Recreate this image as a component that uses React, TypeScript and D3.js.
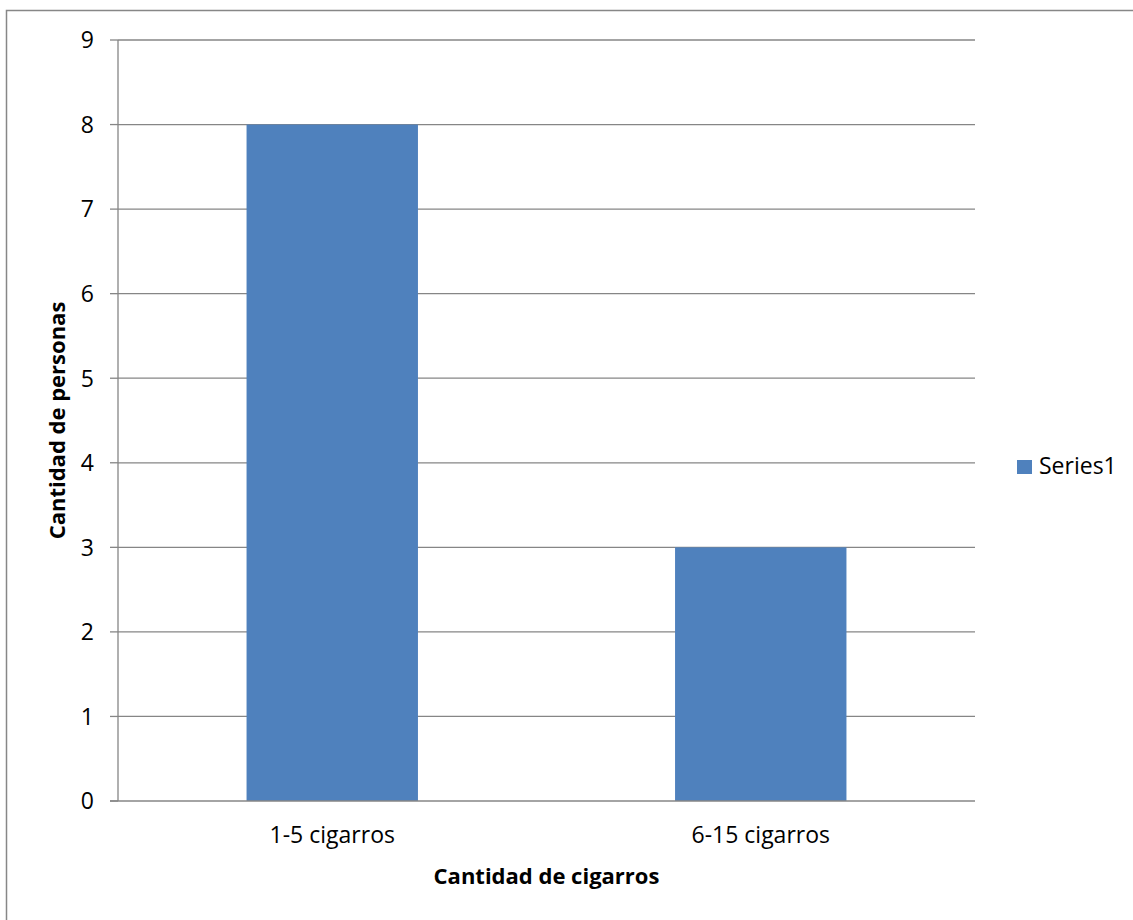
import React from "react";
import * as d3 from "d3";

const categories = ["1-5 cigarros", "6-15 cigarros"];
const values = [8, 3];
const yTicks = [0, 1, 2, 3, 4, 5, 6, 7, 8, 9];
const seriesName = "Series1";
const xTitle = "Cantidad de cigarros";
const yTitle = "Cantidad de personas";

const W = 1133;
const H = 920;
const plot = { left: 118, right: 975, top: 40, bottom: 801 };
const FONT = "'Open Sans', 'Noto Sans', sans-serif";
const GRID = "#868686";
const BAR = "#4F81BD";
const FS = 23;
const FS_TITLE = 22;

export default function App() {
  const x = d3
    .scaleBand<string>()
    .domain(categories)
    .range([plot.left, plot.right])
    .paddingInner(0.6)
    .paddingOuter(0.3);
  const y = d3.scaleLinear().domain([0, 9]).range([plot.bottom, plot.top]);

  return (
    <div style={{ position: "absolute", left: 0, top: 0 }}>
      <svg width={W} height={H} style={{ display: "block", fontFamily: FONT }}>
        <rect x={0} y={0} width={W} height={H} fill="#fff" />
        <rect x={6.5} y={10.5} width={W} height={H} fill="none" stroke="#878787" strokeWidth={1.5} />
        {yTicks.map((t) => (
          <g key={t}>
            {t > 0 && (
              <line x1={plot.left} x2={plot.right} y1={y(t)} y2={y(t)} stroke={GRID} strokeWidth={1.3} />
            )}
            <line x1={plot.left - 8} x2={plot.left} y1={y(t)} y2={y(t)} stroke={GRID} strokeWidth={1.3} />
            <text x={94} y={y(t)} dy="0.36em" textAnchor="end" fontSize={FS} fill="#000">
              {t}
            </text>
          </g>
        ))}
        {categories.map((c, i) => (
          <rect
            key={c}
            x={x(c)}
            y={y(values[i])}
            width={x.bandwidth()}
            height={y(0) - y(values[i])}
            fill={BAR}
          />
        ))}
        <line x1={plot.left} x2={plot.left} y1={plot.top} y2={plot.bottom} stroke={GRID} strokeWidth={1.3} />
        <line x1={plot.left - 8} x2={plot.right} y1={plot.bottom} y2={plot.bottom} stroke={GRID} strokeWidth={1.3} />
        {categories.map((c) => (
          <text key={c} x={(x(c) as number) + x.bandwidth() / 2} y={843} textAnchor="middle" fontSize={FS} fill="#000">
            {c}
          </text>
        ))}
        <text x={(plot.left + plot.right) / 2} y={884} textAnchor="middle" fontSize={FS_TITLE} fontWeight="bold" fill="#000">
          {xTitle}
        </text>
        <text
          transform={`translate(65, ${(plot.top + plot.bottom) / 2}) rotate(-90)`}
          textAnchor="middle"
          fontSize={FS_TITLE}
          fontWeight="bold"
          fill="#000"
        >
          {yTitle}
        </text>
        <rect x={1017} y={460} width={15} height={14} fill={BAR} />
        <text x={1039} y={474} fontSize={FS} fill="#000">
          {seriesName}
        </text>
      </svg>
    </div>
  );
}
